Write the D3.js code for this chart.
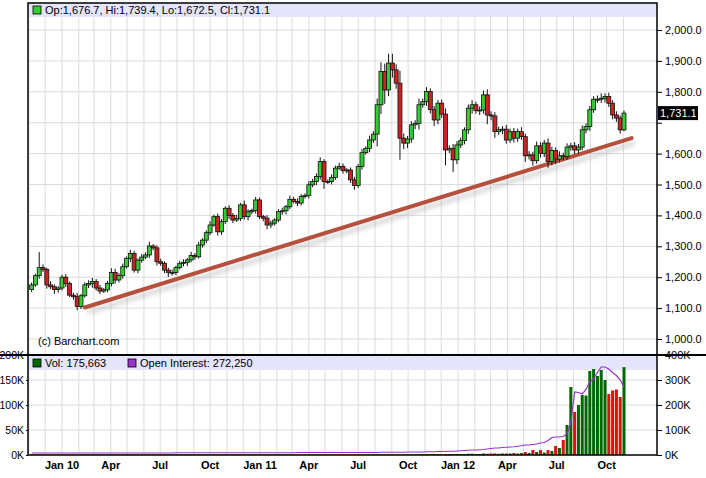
<!DOCTYPE html>
<html>
<head>
<meta charset="utf-8">
<script src="https://cdn.jsdelivr.net/npm/d3@7"></script>
<style>
  body { margin: 0; background: #fff; }
  text { font-family: "Liberation Sans", Arial, sans-serif; }
</style>
</head>
<body>
<div id="chart"></div>
<script>
'use strict';

// Weekly closes (first week ~Nov 6 2009)
const closes = [1175,1205,1231,1225,1175,1169,1160,1165,1200,1180,1142,1137,1105,1140,1175,1180,1186,1165,1155,1159,
  1180,1215,1191,1205,1234,1261,1277,1223,1255,1265,1272,1301,1295,1250,1245,1223,1215,1215,1231,1245,
  1248,1256,1270,1266,1304,1320,1344,1369,1396,1347,1380,1423,1400,1385,1390,1434,1396,1412,1416,1450,
  1396,1391,1369,1375,1385,1412,1415,1428,1452,1445,1440,1461,1465,1499,1510,1526,1574,1510,1510,1523,
  1553,1558,1545,1547,1515,1497,1558,1603,1617,1644,1663,1758,1866,1806,1893,1871,1828,1650,1634,1647,
  1693,1698,1758,1768,1801,1742,1709,1763,1728,1612,1617,1580,1628,1642,1677,1747,1758,1739,1741,1790,
  1725,1722,1671,1677,1679,1644,1671,1650,1671,1655,1593,1596,1577,1625,1601,1634,1574,1610,1582,1593,
  1590,1621,1625,1612,1621,1677,1688,1742,1776,1776,1779,1785,1763,1725,1715,1676.7,1731.1];
const firstOpen = 1160;
// Wick lengths above / below the body
const wickUp = [8,6,50,10,6,12,8,6,8,10,6,8,12,6,8,10,12,8,10,6,
  8,14,12,8,10,6,12,8,6,10,8,14,6,8,10,6,8,10,6,8,
  10,6,12,8,10,6,8,12,6,10,8,6,10,8,12,6,14,8,6,10,
  8,6,10,8,6,8,10,6,12,8,10,8,6,12,8,10,14,8,6,10,
  8,12,10,6,8,10,8,12,6,14,10,20,30,25,30,30,18,40,15,10,
  12,10,20,10,14,10,12,10,12,18,10,14,12,10,8,12,15,10,12,14,
  18,12,12,10,10,14,10,12,10,14,10,12,10,14,12,10,15,12,10,14,
  10,12,10,12,10,14,10,12,10,12,16,10,12,10,12,8,8.3];
const wickDn = [8,6,10,8,12,8,14,10,8,12,6,10,12,8,6,10,14,8,10,6,
  8,10,12,8,10,6,12,8,10,8,6,10,8,12,8,10,14,10,8,6,
  10,12,8,10,6,8,10,8,6,12,10,8,12,10,6,8,10,12,8,10,
  8,10,14,10,8,6,10,12,8,6,10,8,6,10,8,12,10,24,8,10,
  8,6,10,8,10,14,8,10,6,12,10,40,30,45,20,25,18,70,20,16,
  12,14,20,10,14,12,20,14,12,50,10,40,14,10,12,14,18,10,14,12,
  30,14,20,10,14,12,10,14,12,10,20,12,16,10,14,12,20,12,16,10,
  12,10,12,14,12,10,12,14,10,12,12,14,12,14,12,12,4.2];
// Volume (thousand contracts) and open interest (thousand) per week
const volumes = [1,1,1,1,1,1,1,1,1,1,1,1,1,1,1,1,1,1,1,1,
  1,1,1,1,1,1,1,1,1,1,1,1,1,1,1,1,1,1,1,1,
  1,1,1,1,1,1,1,1,1,1,1,1,1,1,1,1,1,1,1,1,
  1,1,1,1,1,1,1,1,1,1,1,1,1,1,1,1,1,1,1,1,
  1,1,1,1,1,1,1,1,1,1,1,1,1,1,1,1,1,1,1,1,
  1,1,1,1.5,1.5,1.5,2,2,1.5,2,2,2,2,2,2,2.5,2.5,2,2,3,
  2.5,3,3,2.5,3,3,3,4,3,4,6,4,10,6,10,5,10,8,18,14,
  30,60,136,86,100,120,119,168,172,158,170,150,122,129,131,116,175.663].map(v => v * 1000);
const openInterest = [8,8,8,8,8,8,8,8,8,8,8,8,8,8,8,8,8,8,8,8,
  8,8,8,8,8,8,8,8,8,8,8,8,8,8,8,8,8,8,9,9,
  9,9,9,9,9,9,9,9,9,9,9,9,9,9,9,9,9,9,9,9,
  9,9,9,9,9,9,9,9,9,9,10,10,10,10,10,10,10,10,10,10,
  10,10,10,10,10,10,10,10,10,10,10,10,11,11,11,11,11,11,11,12,
  12,12,12,12,13,13,13,14,14,14,15,15,16,17,18,19,20,20,21,22,
  24,26,28,28,30,31,32,33,35,37,40,40,42,44,48,50,58,70,72,72,
  74,85,128,252,250,244,262,292,305,330,352,352,344,330,318,300,272.25].map(v => v * 1000);
const priceTicks = [1000,1100,1200,1300,1400,1500,1600,1700,1800,1900,2000];
const priceLabels = [1000,1100,1200,1300,1400,1500,1600,1800,1900,2000];
const volTicks = [0,50000,100000,150000,200000];
const oiTicks = [0,100000,200000,300000,400000];
const monthLabels = [
  ["2010-01-01","Jan 10"],["2010-04-01","Apr"],["2010-07-01","Jul"],["2010-10-01","Oct"],
  ["2011-01-01","Jan 11"],["2011-04-01","Apr"],["2011-07-01","Jul"],["2011-10-01","Oct"],
  ["2012-01-01","Jan 12"],["2012-04-01","Apr"],["2012-07-01","Jul"],["2012-10-01","Oct"]];
const trendStart = ["2010-02-12", 1102];
const trendEnd = ["2012-11-16", 1650];

const W = 706, H = 478;
const left = 28, right = 657;
const priceTop = 3, volBottom = 455;
const green = "#33cc33", red = "#cc2222";
const parse = d3.timeParse("%Y-%m-%d");
const start = parse("2009-11-06");

const candles = closes.map((c, i) => {
  const o = i === 0 ? firstOpen : closes[i - 1];
  return {
    date: d3.timeDay.offset(start, 7 * i),
    open: o, close: c,
    high: Math.max(o, c) + wickUp[i],
    low: Math.min(o, c) - wickDn[i],
    vol: volumes[i], oi: openInterest[i]
  };
});

const x = d3.scaleTime()
  .domain([parse("2010-01-01"), parse("2011-01-01")])
  .range([62, 260]);
const y = d3.scaleLinear().domain([1000, 2000]).range([339, 30]);
const yVol = d3.scaleLinear().domain([0, 200000]).range([volBottom, 355]);
const yOi = d3.scaleLinear().domain([0, 400000]).range([volBottom, 355]);

const svg = d3.select("#chart").append("svg")
  .attr("width", W).attr("height", H);

// grid
const grid = svg.append("g");
const months = d3.timeMonth.range(parse("2009-11-01"), parse("2012-12-01"));
grid.selectAll("line.v").data(months).join("line")
  .attr("x1", d => x(d)).attr("x2", d => x(d))
  .attr("y1", priceTop).attr("y2", volBottom)
  .attr("stroke", "#dcdcdc").attr("stroke-width", 1);
grid.selectAll("line.h").data(priceTicks).join("line")
  .attr("x1", left).attr("x2", right)
  .attr("y1", d => y(d)).attr("y2", d => y(d))
  .attr("stroke", "#dcdcdc");
grid.selectAll("line.hv").data(volTicks.slice(1, 4)).join("line")
  .attr("x1", left).attr("x2", right)
  .attr("y1", d => yVol(d)).attr("y2", d => yVol(d))
  .attr("stroke", "#dcdcdc");

// header bands
svg.append("rect").attr("x", left).attr("y", priceTop).attr("width", right - left).attr("height", 14).attr("fill", "#e4e4fa");
svg.append("rect").attr("x", left).attr("y", 355).attr("width", right - left).attr("height", 15).attr("fill", "#e4e4fa");

// trend line with shadow
const tx1 = x(parse(trendStart[0])), ty1 = y(trendStart[1]);
const tx2 = x(parse(trendEnd[0])), ty2 = y(trendEnd[1]);
svg.append("line").attr("x1", tx1 + 3).attr("y1", ty1 + 5).attr("x2", tx2 + 3).attr("y2", ty2 + 5)
  .attr("stroke", "#999").attr("stroke-width", 5).attr("opacity", 0.35)
  .style("filter", "blur(2px)");
svg.append("line").attr("x1", tx1).attr("y1", ty1).attr("x2", tx2).attr("y2", ty2)
  .attr("stroke", "#b5503c").attr("stroke-width", 4).attr("stroke-linecap", "round");

// candles
const cg = svg.append("g").selectAll("g").data(candles).join("g");
cg.append("line")
  .attr("x1", d => x(d.date)).attr("x2", d => x(d.date))
  .attr("y1", d => y(d.high)).attr("y2", d => y(d.low))
  .attr("stroke", "#111");
cg.append("rect")
  .attr("x", d => x(d.date) - 2).attr("width", 4)
  .attr("y", d => y(Math.max(d.open, d.close)))
  .attr("height", d => Math.max(1, Math.abs(y(d.open) - y(d.close))))
  .attr("fill", d => d.close >= d.open ? green : red)
  .attr("stroke", "#111").attr("stroke-width", 0.8);

// volume bars
svg.append("g").selectAll("rect").data(candles).join("rect")
  .attr("x", d => x(d.date) - 1.5).attr("width", 3)
  .attr("y", d => yVol(d.vol)).attr("height", d => volBottom - yVol(d.vol))
  .attr("fill", d => d.close >= d.open ? "#006600" : "#dd1111");

// open interest
svg.append("path").datum(candles)
  .attr("d", d3.line().x(d => x(d.date)).y(d => yOi(d.oi)))
  .attr("fill", "none").attr("stroke", "#9933cc").attr("stroke-width", 1.2);

// frames
svg.append("rect").attr("x", left).attr("y", priceTop).attr("width", right - left).attr("height", volBottom - priceTop)
  .attr("fill", "none").attr("stroke", "#000").attr("stroke-width", 1.5);
svg.append("line").attr("x1", 0).attr("x2", 706).attr("y1", 355).attr("y2", 355).attr("stroke", "#000").attr("stroke-width", 2);

// axes
const fmtK = d => d / 1000 + "K";
svg.append("g").attr("transform", `translate(${right},0)`)
  .call(d3.axisRight(y).tickValues(priceTicks).tickSize(5).tickFormat(d => priceLabels.includes(d) ? d3.format(",.1f")(d) : ""));
svg.append("g").attr("transform", `translate(${right},0)`)
  .call(d3.axisRight(yOi).tickValues(oiTicks).tickSize(5).tickFormat(fmtK));
svg.append("g").attr("class", "volaxis").attr("transform", `translate(${left},0)`)
  .call(d3.axisLeft(yVol).tickValues(volTicks).tickSize(2).tickPadding(2).tickFormat(fmtK));
svg.selectAll(".domain").remove();
svg.selectAll(".tick text").attr("font-size", 11).attr("fill", "#000")
  .style("font-family", "'Liberation Sans', Arial, sans-serif");
svg.selectAll(".volaxis .tick text").attr("font-size", 10.5);
svg.selectAll(".tick line").attr("stroke", "#000");

svg.append("g").selectAll("text").data(monthLabels).join("text")
  .attr("x", d => x(parse(d[0]))).attr("y", 469)
  .attr("text-anchor", "middle").attr("font-size", 11).attr("font-weight", "bold")
  .text(d => d[1]);

// last price tag
const last = candles[candles.length - 1];
svg.append("rect").attr("x", right + 1).attr("y", y(last.close) - 7).attr("width", 40).attr("height", 14).attr("fill", "#000");
svg.append("text").attr("x", right + 3).attr("y", y(last.close) + 4).attr("fill", "#fff").attr("font-size", 11)
  .text(d3.format(",.1f")(last.close));

// legends
const f1 = d3.format(",.1f");
svg.append("rect").attr("x", 33).attr("y", 6).attr("width", 8).attr("height", 8).attr("fill", green).attr("stroke", "#000").attr("stroke-width", 0.8);
svg.append("text").attr("x", 45).attr("y", 14).attr("font-size", 11)
  .text(`Op:${f1(last.open)}, Hi:${f1(last.high)}, Lo:${f1(last.low)}, Cl:${f1(last.close)}`);
svg.append("rect").attr("x", 33).attr("y", 359).attr("width", 8).attr("height", 8).attr("fill", "#006600").attr("stroke", "#000").attr("stroke-width", 0.8);
svg.append("text").attr("x", 45).attr("y", 367).attr("font-size", 11).text(`Vol: ${d3.format(",")(last.vol)}`);
svg.append("rect").attr("x", 128).attr("y", 359).attr("width", 8).attr("height", 8).attr("fill", "#9933cc").attr("stroke", "#000").attr("stroke-width", 0.8);
svg.append("text").attr("x", 140).attr("y", 367).attr("font-size", 11).text(`Open Interest: ${d3.format(",")(last.oi)}`);

svg.append("text").attr("x", 38).attr("y", 345).attr("font-size", 11).text("(c) Barchart.com");
</script>
</body>
</html>
